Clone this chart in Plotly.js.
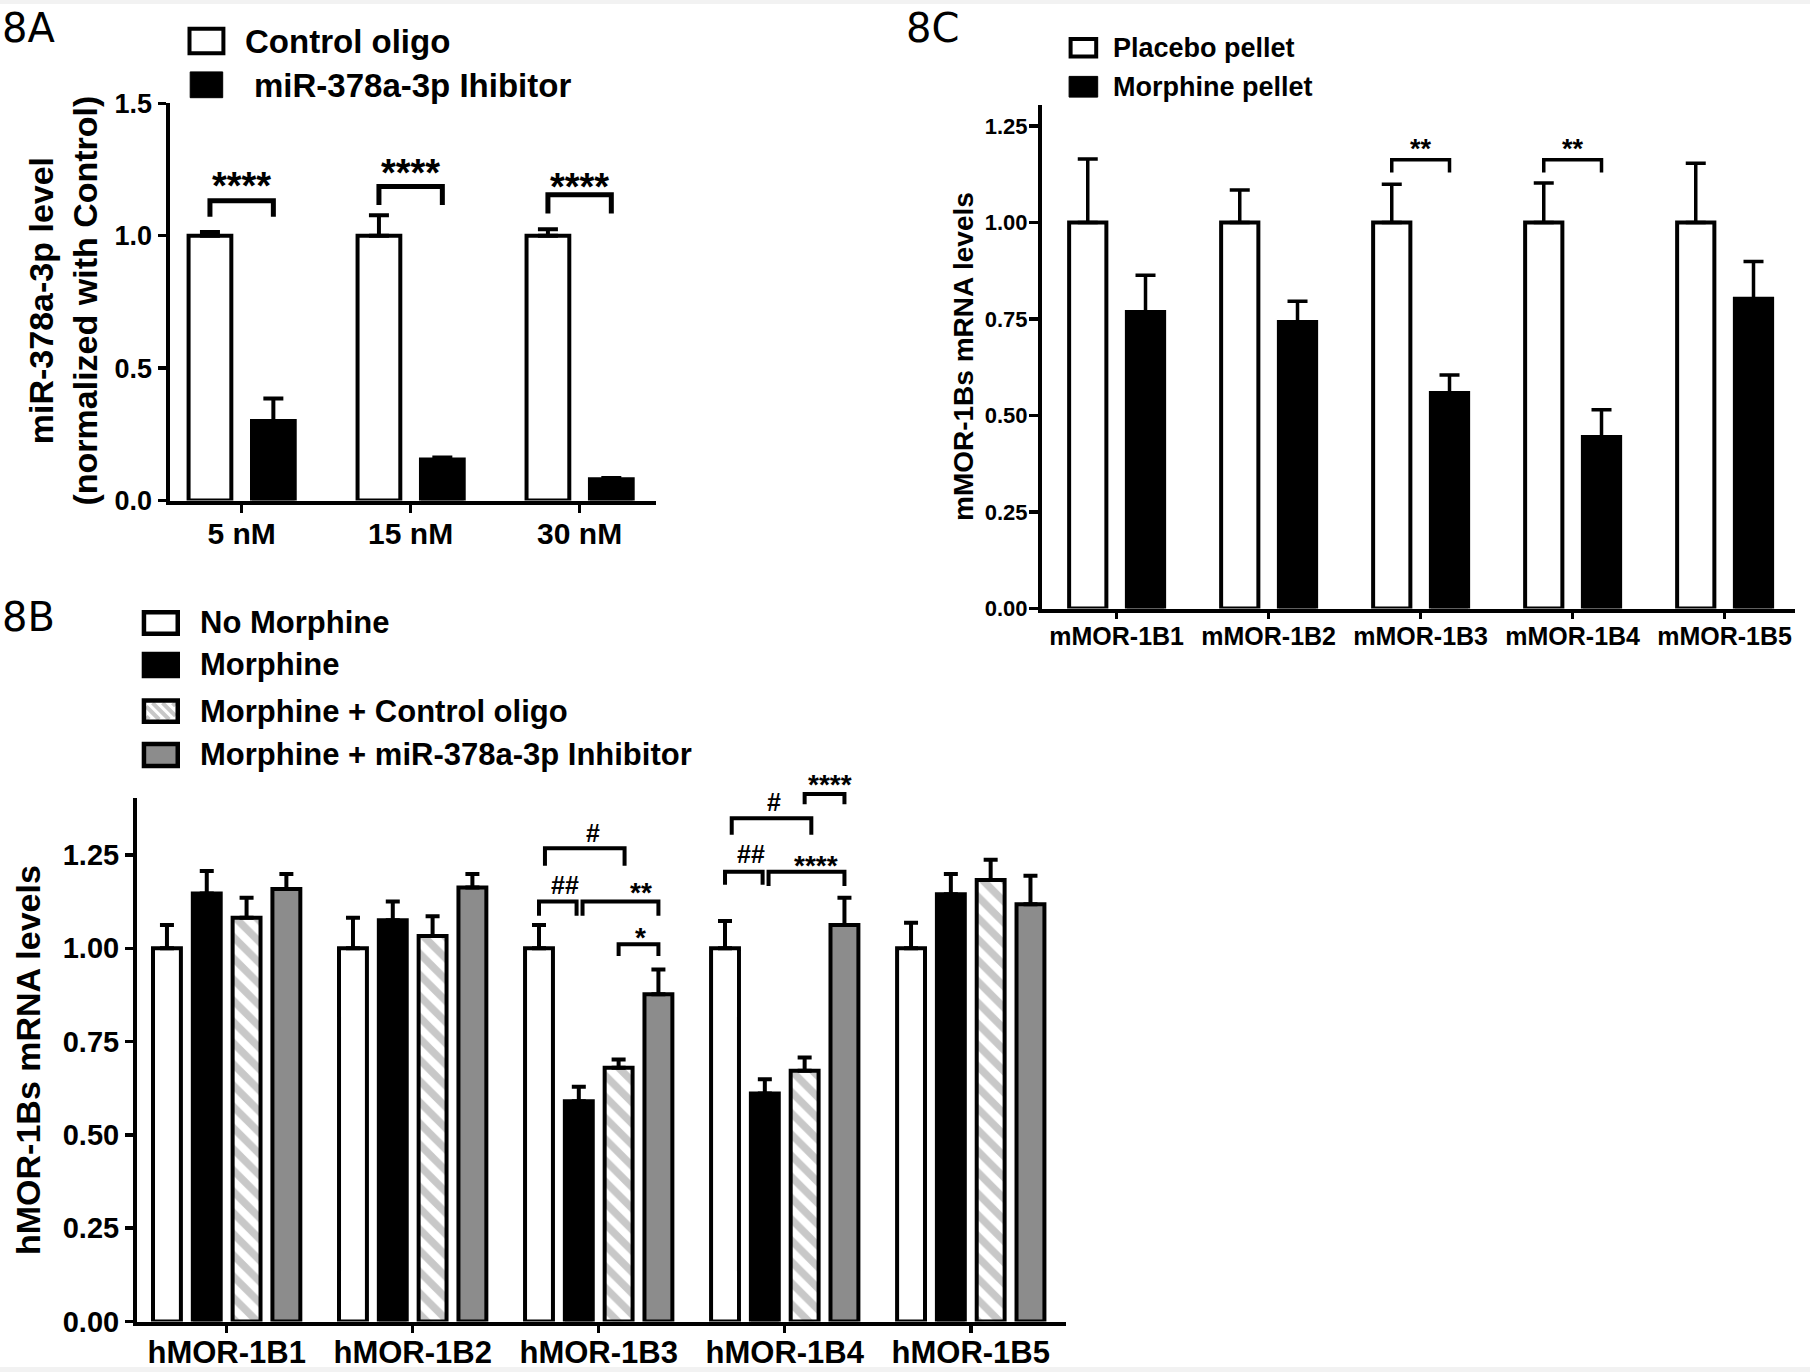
<!DOCTYPE html>
<html><head><meta charset="utf-8">
<script src="https://cdn.plot.ly/plotly-3.0.1.min.js"></script>
<style>html,body{margin:0;padding:0;background:#fff;}#chart{width:1810px;height:1372px;}</style>
</head><body><div id="chart"></div>
<script>
// ================= DATA =================
// Panel 8A
const catA = ['5 nM', '15 nM', '30 nM'];
const ctrlOligoA = [1.0, 1.0, 1.0];
const ctrlOligoErrA = [0.014, 0.077, 0.024];
const inhibitorA = [0.30, 0.155, 0.08];
const inhibitorErrA = [0.085, 0.007, 0.005];
const legendA = ['Control oligo', 'miR-378a-3p Ihibitor'];
const ticksA = [0, 0.5, 1.0, 1.5];
// brackets: [group, fromBar, toBar, top, legBottom, label, labelY]
const bracketsA = [
  [0, 0, 1, 1.132, 1.072, '****', 1.218],
  [1, 0, 1, 1.186, 1.116, '****', 1.267],
  [2, 0, 1, 1.155, 1.084, '****', 1.216]
];

// Panel 8B
const catB = ['hMOR-1B1', 'hMOR-1B2', 'hMOR-1B3', 'hMOR-1B4', 'hMOR-1B5'];
const noMorphineB = [1.0, 1.0, 1.0, 1.0, 1.0];
const noMorphineErrB = [0.062, 0.082, 0.062, 0.073, 0.068];
const morphineB = [1.147, 1.075, 0.590, 0.611, 1.145];
const morphineErrB = [0.060, 0.050, 0.039, 0.038, 0.054];
const morphCtrlB = [1.082, 1.033, 0.680, 0.672, 1.183];
const morphCtrlErrB = [0.053, 0.053, 0.022, 0.035, 0.054];
const morphInhB = [1.159, 1.163, 0.877, 1.062, 1.118];
const morphInhErrB = [0.040, 0.036, 0.066, 0.073, 0.076];
const legendB = ['No Morphine', 'Morphine', 'Morphine + Control oligo', 'Morphine + miR-378a-3p Inhibitor'];
const ticksB = [0, 0.25, 0.5, 0.75, 1.0, 1.25];
const bracketsB = [
  [2, 0, 1, 1.125, 1.087, '##', 1.170],
  [2, 1, 3, 1.125, 1.087, '**', 1.166],
  [2, 0, 2, 1.268, 1.221, '#', 1.310],
  [2, 2, 3, 1.011, 0.979, '*', 1.044],
  [3, 0, 1, 1.205, 1.170, '##', 1.252],
  [3, 1, 3, 1.205, 1.167, '****', 1.237],
  [3, 0, 2, 1.348, 1.304, '#', 1.393],
  [3, 2, 3, 1.413, 1.386, '****', 1.456]
];

// Panel 8C
const catC = ['mMOR-1B1', 'mMOR-1B2', 'mMOR-1B3', 'mMOR-1B4', 'mMOR-1B5'];
const placeboC = [1.0, 1.0, 1.0, 1.0, 1.0];
const placeboErrC = [0.164, 0.084, 0.099, 0.102, 0.153];
const morphinePelletC = [0.768, 0.742, 0.558, 0.444, 0.802];
const morphinePelletErrC = [0.095, 0.054, 0.047, 0.071, 0.097];
const legendC = ['Placebo pellet', 'Morphine pellet'];
const ticksC = [0, 0.25, 0.5, 0.75, 1.0, 1.25];
const bracketsC = [
  [2, 0, 1, 1.162, 1.129, '**', 1.205],
  [3, 0, 1, 1.162, 1.129, '**', 1.205]
];

// ================= STYLE / LAYOUT =================
const W = 1810, H = 1372;
const px = v => v / W;
const py = v => 1 - v / H;
const FONT = 'Liberation Sans, Arial, Helvetica, sans-serif';
const LABELFONT = 'DejaVu Sans, sans-serif';

const panels = {
  A: {xa: 'x', ya: 'y', xdom: [169.5, 656], ydom: [500.5, 103.3], xr: [-0.427, 2.452], ytop: 1.5,
      centers: [-0.1876, 0.1876], width: 0.253, lw: 4, errT: 4, errW: 10, brW: 5,
      starSize: 38, hashSize: 26, brDx: [0, 0, 0], lblDx: [0, 0, 0]},
  B: {xa: 'x2', ya: 'y2', xdom: [137, 1066], ydom: [1321.5, 798.2], xr: [-0.482, 4.512], ytop: 1.402,
      centers: [-0.321, -0.107, 0.107, 0.321], width: 0.15, lw: 4, errT: 4, errW: 7, brW: 4,
      starSize: 28, hashSize: 25,
      brDx: [0, 0, 0.032, 0, 0, 0, 0.036, 0],      // bracket shift (category units)
      lblDx: [7, 21, 8, 2, 7, 9, 2, 5]},            // label shift (px)
  C: {xa: 'x3', ya: 'y3', xdom: [1042, 1795], ydom: [608.5, 105], xr: [-0.491, 4.463], ytop: 1.304,
      centers: [-0.19, 0.19], width: 0.245, lw: 4, errT: 3.5, errW: 10, brW: 3.5,
      starSize: 27, hashSize: 25, brDx: [0, 0], lblDx: [0, 0]}
};

function barTrace(p, bi, cats, y, err, marker) {
  return {
    type: 'bar', x: cats, y: y,
    xaxis: p.xa, yaxis: p.ya,
    width: p.width, offset: p.centers[bi] - p.width / 2,
    marker: Object.assign({line: {color: '#000', width: p.lw}}, marker),
    error_y: {type: 'data', symmetric: false, array: err, arrayminus: err.map(() => 0),
              color: '#000', thickness: p.errT, width: p.errW},
    showlegend: false, hoverinfo: 'skip', cliponaxis: false
  };
}

const WHITE = {color: '#ffffff'};
const BLACK = {color: '#000000'};
const HATCH = {color: '#ffffff', pattern: {shape: '\\', fgcolor: '#c8c8c8', bgcolor: '#ffffff', size: 15, solidity: 0.5, fillmode: 'replace'}};
const GRAY = {color: '#8c8c8c'};

const data = [
  barTrace(panels.A, 0, catA, ctrlOligoA, ctrlOligoErrA, WHITE),
  barTrace(panels.A, 1, catA, inhibitorA, inhibitorErrA, BLACK),
  barTrace(panels.B, 0, catB, noMorphineB, noMorphineErrB, WHITE),
  barTrace(panels.B, 1, catB, morphineB, morphineErrB, BLACK),
  barTrace(panels.B, 2, catB, morphCtrlB, morphCtrlErrB, HATCH),
  barTrace(panels.B, 3, catB, morphInhB, morphInhErrB, GRAY),
  barTrace(panels.C, 0, catC, placeboC, placeboErrC, WHITE),
  barTrace(panels.C, 1, catC, morphinePelletC, morphinePelletErrC, BLACK)
];

function xAxis(p, tickSize, ticklen, standoff) {
  return {domain: [px(p.xdom[0]), px(p.xdom[1])], range: p.xr, type: 'category', anchor: p.ya,
    showline: true, linewidth: 4, linecolor: '#000', ticks: 'outside', ticklen: ticklen, tickwidth: 3.5,
    tickcolor: '#000', showgrid: false, zeroline: false, fixedrange: true, ticklabelstandoff: standoff,
    tickfont: {family: FONT, size: tickSize, color: '#000', weight: 'bold'}};
}
function yAxis(p, ticks, fmt, tickSize, ticklen, standoff) {
  return {domain: [py(p.ydom[0]), py(p.ydom[1])], range: [0, p.ytop], anchor: p.xa,
    tickmode: 'array', tickvals: ticks, ticktext: ticks.map(v => v.toFixed(fmt)),
    showline: true, linewidth: 4, linecolor: '#000', ticks: 'outside', ticklen: ticklen, tickwidth: 3.5,
    tickcolor: '#000', showgrid: false, zeroline: false, fixedrange: true, ticklabelstandoff: standoff,
    tickfont: {family: FONT, size: tickSize, color: '#000', weight: 'bold'}};
}

const shapes = [];
const annotations = [];

// background edge strips
shapes.push({type: 'rect', xref: 'paper', yref: 'paper', x0: 0, x1: 1, y0: py(4), y1: 1, fillcolor: '#f2f2f2', line: {width: 0}, layer: 'below'});
shapes.push({type: 'rect', xref: 'paper', yref: 'paper', x0: 0, x1: 1, y0: 0, y1: py(1367), fillcolor: '#f2f2f2', line: {width: 0}, layer: 'below'});

// significance brackets
function addBrackets(p, list) {
  list.forEach((b, i) => {
    const [g, f, t, top, bot, label, ly] = b;
    let x0 = g + p.centers[f] + p.brDx[i], x1 = g + p.centers[t] + p.brDx[i];
    // separate brackets sharing an endpoint at the same level
    list.forEach(o => {
      if (o === b || o[0] !== g || Math.abs(o[3] - top) > 1e-6) return;
      if (o[2] === f) x0 += 0.02;
      if (o[1] === t) x1 -= 0.012;
    });
    const yt = top / p.ytop, yb = bot / p.ytop;
    shapes.push({type: 'path', xref: p.xa, yref: p.ya + ' domain',
      path: `M${x0},${yb}L${x0},${yt}L${x1},${yt}L${x1},${yb}`,
      line: {color: '#000', width: p.brW}, fillcolor: 'rgba(0,0,0,0)', layer: 'above'});
    const isStar = label.indexOf('*') >= 0;
    const size = isStar ? p.starSize : p.hashSize;
    annotations.push({xref: p.xa, yref: p.ya + ' domain', x: (x0 + x1) / 2, y: ly / p.ytop, text: label, showarrow: false,
      xanchor: 'center', yanchor: 'middle', yshift: isStar ? -0.22 * size : 0, xshift: p.lblDx[i],
      font: {family: FONT, size: size, color: '#000', weight: 'bold'}});
  });
}
addBrackets(panels.A, bracketsA);
addBrackets(panels.B, bracketsB);
addBrackets(panels.C, bracketsC);

// legend helpers (pixel boxes)
function legendBox(x0, y0, x1, y1, fill, lw) {
  const h = lw / 2;
  shapes.push({type: 'rect', xref: 'paper', yref: 'paper', x0: px(x0 + h), x1: px(x1 - h), y0: py(y1 - h), y1: py(y0 + h),
    fillcolor: fill, line: {color: '#000', width: lw}, layer: 'above'});
}
function hatchBox(x0, y0, x1, y1, lw) {
  shapes.push({type: 'rect', xref: 'paper', yref: 'paper', x0: px(x0), x1: px(x1), y0: py(y1), y1: py(y0),
    fillcolor: '#ffffff', line: {width: 0}, layer: 'above'});
  const ix0 = x0 + lw, iy0 = y0 + lw, ix1 = x1 - lw, iy1 = y1 - lw;
  for (let c = ix0 - iy1 + 3; c < ix1 - iy0; c += 10) {
    // screen line: y = x - c
    const xs = Math.max(ix0, iy0 + c), xe = Math.min(ix1, iy1 + c);
    if (xe - xs < 1) continue;
    shapes.push({type: 'line', xref: 'paper', yref: 'paper', x0: px(xs), y0: py(xs - c), x1: px(xe), y1: py(xe - c),
      line: {color: '#c8c8c8', width: 4}, layer: 'above'});
  }
  const h = lw / 2;
  shapes.push({type: 'rect', xref: 'paper', yref: 'paper', x0: px(x0 + h), x1: px(x1 - h), y0: py(y1 - h), y1: py(y0 + h),
    fillcolor: 'rgba(0,0,0,0)', line: {color: '#000', width: lw}, layer: 'above'});
}
function text(x, y, t, size, opts) {
  annotations.push(Object.assign({xref: 'paper', yref: 'paper', x: px(x), y: py(y), text: t, showarrow: false,
    xanchor: 'left', yanchor: 'middle', font: {family: FONT, size: size, color: '#000', weight: 'bold'}}, opts || {}));
}

// Legend A
legendBox(187.5, 26.8, 225.4, 55.3, '#ffffff', 4);
legendBox(189.7, 71.4, 223.2, 98.2, '#000000', 1);
text(243, 41.5, legendA[0], 33);
text(252, 85.5, legendA[1], 33);

// Legend B
legendBox(141.7, 610, 180, 636, '#ffffff', 4.5);
legendBox(141.7, 651.7, 180, 678.3, '#000000', 4.5);
hatchBox(141.7, 698.3, 180, 724, 4.5);
legendBox(141.7, 741.7, 180, 768.3, '#8c8c8c', 4.5);
text(198, 622.5, legendB[0], 31);
text(198, 664.5, legendB[1], 31);
text(198, 711.5, legendB[2], 31);
text(198, 754.5, legendB[3], 31);

// Legend C
legendBox(1068.6, 36.9, 1098.2, 58.5, '#ffffff', 4);
legendBox(1068.6, 75.9, 1098.2, 97.6, '#000000', 1);
text(1111, 47.7, legendC[0], 27);
text(1111, 86.7, legendC[1], 27);

// Panel labels
const lblOpts = {font: {family: LABELFONT, size: 40, color: '#000'}, yanchor: 'top', borderpad: 0};
text(1, 4, '8A', 40, lblOpts);
text(1, 593, '8B', 40, lblOpts);
text(905, 4, '8C', 40, lblOpts);

// Axis titles
text(62.5, 301, 'miR-378a-3p level<br>(normalized with Control)', 34, {xanchor: 'center', textangle: -90});
text(28, 1060, 'hMOR-1Bs mRNA levels', 34, {xanchor: 'center', textangle: -90});
text(963, 357, 'mMOR-1Bs mRNA levels', 28, {xanchor: 'center', textangle: -90});

const layout = {
  width: W, height: H, margin: {l: 0, r: 0, t: 0, b: 0, pad: 0},
  paper_bgcolor: '#ffffff', plot_bgcolor: 'rgba(0,0,0,0)',
  barmode: 'overlay', showlegend: false,
  xaxis: xAxis(panels.A, 30, 8, -5),
  yaxis: yAxis(panels.A, ticksA, 1, 27, 8, 0),
  xaxis2: xAxis(panels.B, 31, 7, -7),
  yaxis2: yAxis(panels.B, ticksB, 2, 29, 8, 0),
  xaxis3: xAxis(panels.C, 25, 6, -4),
  yaxis3: yAxis(panels.C, ticksC, 2, 22, 9, -3),
  shapes: shapes,
  annotations: annotations
};

Plotly.newPlot('chart', data, layout, {displayModeBar: false, staticPlot: true});
</script>
</body></html>
